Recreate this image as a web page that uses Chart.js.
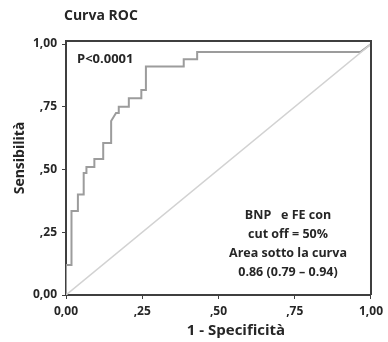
<!DOCTYPE html>
<html>
<head>
<meta charset="utf-8">
<script src="https://cdn.jsdelivr.net/npm/chart.js@4.4.1/dist/chart.umd.min.js"></script>
<style>
  html, body { margin: 0; padding: 0; background: #fff; }
  canvas { display: block; }
</style>
</head>
<body>
<canvas id="rocChart" width="388" height="342"></canvas>
<script>
// ROC curve (1 - specificity, sensitivity)
const rocFpr = [0, 0, 0.018, 0.018, 0.039, 0.039, 0.058, 0.058, 0.067, 0.067, 0.093, 0.093, 0.122, 0.122, 0.148, 0.148, 0.164, 0.173, 0.173, 0.206, 0.206, 0.247, 0.247, 0.262, 0.262, 0.386, 0.386, 0.430, 0.430, 0.965, 1];
const rocTpr = [0, 0.120, 0.120, 0.335, 0.335, 0.400, 0.400, 0.486, 0.486, 0.510, 0.510, 0.542, 0.542, 0.606, 0.606, 0.693, 0.725, 0.725, 0.750, 0.750, 0.784, 0.784, 0.817, 0.817, 0.910, 0.910, 0.939, 0.939, 0.968, 0.968, 1];
// reference line
const diagX = [0, 1];
const diagY = [0, 1];

const tickValues = [0, 0.25, 0.5, 0.75, 1];
const tickLabels = ['0,00', ',25', ',50', ',75', '1,00'];

const chartTitle = 'Curva ROC';
const xTitle = '1 - Specificità';
const yTitle = 'Sensibilità';
const pText = 'P<0.0001';
const noteLines = ['BNP   e FE con', 'cut off = 50%', 'Area sotto la curva', '0.86 (0.79 – 0.94)'];

const FONT = '"Open Sans", "DejaVu Sans", sans-serif';
const AXIS = '#3f3f3f';
const TEXT = '#262626';

const toPoints = (xs, ys) => xs.map((x, i) => ({ x: x, y: ys[i] }));

// frame + texts
const extras = {
  id: 'extras',
  afterDatasetsDraw(chart) {
    const ctx = chart.ctx;
    const a = chart.chartArea;
    ctx.save();
    ctx.strokeStyle = AXIS;
    ctx.lineWidth = 2;
    ctx.beginPath();
    ctx.moveTo(a.left, a.top);
    ctx.lineTo(a.right, a.top);
    ctx.lineTo(a.right, a.bottom);
    ctx.stroke();

    ctx.fillStyle = TEXT;
    ctx.textBaseline = 'middle';
    ctx.font = 'bold 14px ' + FONT;
    ctx.textAlign = 'left';
    ctx.fillText(chartTitle, 64, 16);
    ctx.font = 'bold 13px ' + FONT;
    ctx.fillText(pText, 77, 59);

    ctx.font = 'bold 12.5px ' + FONT;
    ctx.textAlign = 'center';
    const ys = [215, 234, 253, 272];
    noteLines.forEach((t, i) => ctx.fillText(t, 288, ys[i]));

    ctx.font = 'bold 15px ' + FONT;
    ctx.fillText(xTitle, 236, 331);
    ctx.font = 'bold 14px ' + FONT;
    ctx.translate(20, 158);
    ctx.rotate(-Math.PI / 2);
    ctx.fillText(yTitle, 0, 0);
    ctx.restore();
  }
};

const setTicks = scale => { scale.ticks = tickValues.map(v => ({ value: v })); };
const tickLabel = function (value) {
  const i = tickValues.indexOf(value);
  return i >= 0 ? tickLabels[i] : '';
};

const ctx = document.getElementById('rocChart').getContext('2d');
const chart = new Chart(ctx, {
  type: 'scatter',
  data: {
    datasets: [{
      label: 'Riferimento',
      data: toPoints(diagX, diagY),
      showLine: true,
      borderColor: '#d2d2d2',
      borderWidth: 1.5,
      pointRadius: 0
    }, {
      label: 'ROC',
      data: toPoints(rocFpr, rocTpr),
      showLine: true,
      borderColor: '#9c9c9c',
      borderWidth: 2,
      pointRadius: 0
    }]
  },
  options: {
    responsive: false,
    animation: false,
    devicePixelRatio: 1,
    layout: { padding: { top: 41, right: 10, left: 0, bottom: 0 } },
    plugins: {
      legend: { display: false },
      tooltip: { enabled: false }
    },
    scales: {
      x: {
        type: 'linear',
        min: 0,
        max: 1,
        afterBuildTicks: setTicks,
        afterFit: s => { s.height = 47; },
        grid: { drawOnChartArea: false, tickLength: 4, color: AXIS },
        border: { color: AXIS, width: 2 },
        ticks: {
          callback: tickLabel,
          padding: 5,
          maxRotation: 0,
          color: TEXT,
          font: { family: FONT, size: 12, weight: 'bold' }
        }
      },
      y: {
        type: 'linear',
        min: 0,
        max: 1.012,
        afterBuildTicks: setTicks,
        afterFit: s => { s.width = 66; },
        grid: { drawOnChartArea: false, tickLength: 4, color: AXIS },
        border: { color: AXIS, width: 2 },
        ticks: {
          callback: tickLabel,
          padding: 5,
          color: TEXT,
          font: { family: FONT, size: 12, weight: 'bold' }
        }
      }
    }
  },
  plugins: [extras]
});
</script>
</body>
</html>
